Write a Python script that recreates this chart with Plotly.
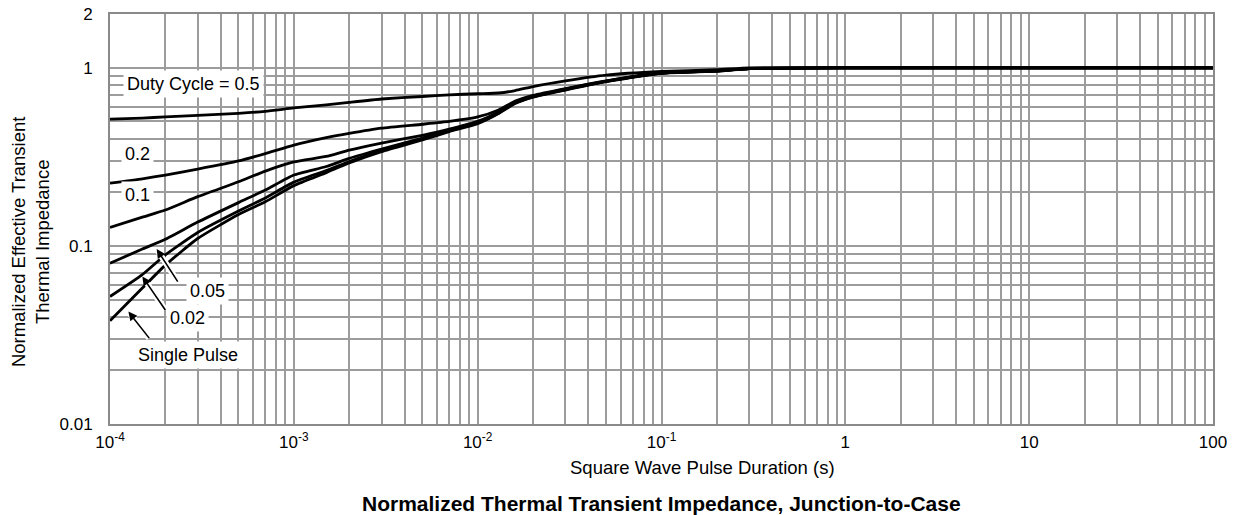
import plotly.graph_objects as go
import numpy as np

# ---- data ----
t_common = [1e-4, 1.5e-4, 2e-4, 3e-4, 5e-4, 7e-4, 1e-3, 1.5e-3, 2e-3, 3e-3, 5e-3, 7e-3,
            1e-2, 1.3e-2, 1.6e-2, 2e-2, 3e-2, 5e-2, 1e-1, 2e-1, 3e-1, 1, 10, 100]

z_d05 = [0.515, 0.522, 0.530, 0.540, 0.555, 0.570, 0.595, 0.620, 0.640, 0.668, 0.690, 0.705,
         0.715, 0.722, 0.745, 0.785, 0.845, 0.910, 0.953, 0.975, 1.0, 1.0, 1.0, 1.0]
z_d02 = [0.225, 0.238, 0.250, 0.270, 0.300, 0.330, 0.368, 0.405, 0.428, 0.458, 0.482, 0.500,
         0.530, 0.580, 0.650, 0.700, 0.765, 0.845, 0.936, 0.962, 0.990, 1.0, 1.0, 1.0]
z_d01 = [0.127, 0.145, 0.159, 0.189, 0.229, 0.263, 0.296, 0.318, 0.345, 0.378, 0.418, 0.452,
         0.500, 0.565, 0.640, 0.692, 0.760, 0.842, 0.935, 0.961, 0.990, 1.0, 1.0, 1.0]
z_d005 = [0.080, 0.096, 0.109, 0.136, 0.175, 0.206, 0.250, 0.279, 0.310, 0.350, 0.403, 0.448,
          0.497, 0.562, 0.638, 0.690, 0.757, 0.840, 0.934, 0.960, 0.990, 1.0, 1.0, 1.0]
z_d002 = [0.052, 0.069, 0.089, 0.119, 0.157, 0.186, 0.228, 0.265, 0.298, 0.343, 0.398, 0.443,
          0.490, 0.558, 0.635, 0.687, 0.754, 0.838, 0.933, 0.959, 0.990, 1.0, 1.0, 1.0]
z_single = [0.038, 0.058, 0.078, 0.110, 0.150, 0.177, 0.218, 0.258, 0.292, 0.338, 0.393, 0.438,
            0.485, 0.553, 0.630, 0.684, 0.750, 0.835, 0.932, 0.958, 0.990, 1.0, 1.0, 1.0]

series = [("0.5", z_d05), ("0.2", z_d02), ("0.1", z_d01), ("0.05", z_d005),
          ("0.02", z_d002), ("Single Pulse", z_single)]

x_decades = [1e-4, 1e-3, 1e-2, 1e-1, 1, 10, 100]
x_ticktext = ["10<sup>-4</sup>", "10<sup>-3</sup>", "10<sup>-2</sup>", "10<sup>-1</sup>", "1", "10", "100"]
y_decades = [0.01, 0.1, 1]
y_ticktext = ["0.01", "0.1", "1"]

# labels: (text, log10 x, log10 y)
labels = [("Duty Cycle = 0.5", -3.548, -0.090),
          ("0.2", -3.853, -0.483),
          ("0.1", -3.853, -0.713),
          ("0.05", -3.472, -1.253),
          ("0.02", -3.581, -1.404),
          ("Single Pulse", -3.576, -1.612)]
# arrows: (head log10 x, head log10 y, ax px, ay px)
arrows = [(-3.746, -1.018, 22, 34),
          (-3.824, -1.172, 24, 35),
          (-3.900, -1.369, 22, 28)]

FONT = "Liberation Sans, Arial, sans-serif"

fig = go.Figure()
for name, z in series:
    fig.add_trace(go.Scatter(x=t_common, y=z, mode="lines", name=name,
                             line=dict(color="black", width=2.8, shape="spline", smoothing=0.5),
                             showlegend=False, hoverinfo="skip"))

# grid positions: every 1..9 within each decade
x_grid = []
x_text = []
for d, lab in zip(x_decades, x_ticktext):
    for m in range(1, 10):
        v = d * m
        if v > 100.0001:
            break
        x_grid.append(v)
        x_text.append(lab if m == 1 else "")
y_grid = []
y_text = []
for d, lab in zip(y_decades, y_ticktext):
    for m in range(1, 10):
        v = d * m
        if v > 1.0001:
            break
        y_grid.append(v)
        y_text.append(lab if m == 1 else "")
y_grid.append(2)
y_text.append("2")

gridc = "#9c9c9c"
fig.update_xaxes(type="log", range=[-4, 2], tickvals=x_grid, ticktext=x_text,
                 showgrid=True, gridcolor=gridc, gridwidth=1.5,
                 showline=True, linecolor="#8a8a8a", linewidth=2, mirror=True,
                 ticks="", ticklabelstandoff=2, zeroline=False,
                 ticklabeloverflow="allow", automargin=False,
                 tickfont=dict(family=FONT, size=17, color="black"))
fig.update_yaxes(type="log", range=[-2, np.log10(2) + 0.001], tickvals=y_grid, ticktext=y_text,
                 showgrid=True, gridcolor=gridc, gridwidth=1.5,
                 showline=True, linecolor="#8a8a8a", linewidth=2, mirror=True,
                 ticks="", ticklabelstandoff=12, zeroline=False,
                 ticklabeloverflow="allow", automargin=False,
                 tickfont=dict(family=FONT, size=17, color="black"))

# arrows with white halo
for hx, hy, ax, ay in arrows:
    fig.add_annotation(x=hx, y=hy, ax=ax, ay=ay, axref="pixel", ayref="pixel",
                       text="", showarrow=True, arrowhead=0, arrowwidth=6, arrowcolor="white",
                       standoff=0)
    fig.add_annotation(x=hx, y=hy, ax=ax, ay=ay, axref="pixel", ayref="pixel",
                       text="", showarrow=True, arrowhead=2, arrowsize=1.1, arrowwidth=1.6,
                       arrowcolor="black", standoff=0)

for txt, lx, ly in labels:
    fig.add_annotation(x=lx, y=ly, text=txt, showarrow=False, bgcolor="white",
                       xanchor="center", yanchor="middle",
                       borderpad=3, font=dict(family=FONT, size=18, color="black"))

fig.add_annotation(xref="paper", yref="paper", x=0.537, y=-0.105, text="Square Wave Pulse Duration (s)",
                   xanchor="center", yanchor="middle",
                   showarrow=False, font=dict(family=FONT, size=18.5, color="black"))
fig.add_annotation(xref="paper", yref="paper", x=-0.0715, y=0.444,
                   text="Normalized Effective Transient<br>Thermal Impedance", textangle=-90,
                   xanchor="center", yanchor="middle",
                   showarrow=False, font=dict(family=FONT, size=18.5, color="black"))
fig.add_annotation(xref="paper", yref="paper", x=0.5, y=-0.193,
                   text="<b>Normalized Thermal Transient Impedance, Junction-to-Case</b>",
                   xanchor="center", yanchor="middle",
                   showarrow=False, font=dict(family=FONT, size=21, color="black"))

# page body has an 8px margin: shrink the figure and margins so the plot area
# lands where it is in the reference window
fig.update_layout(width=1227, height=507, margin=dict(l=102, r=22, t=6, b=91, autoexpand=False),
                  plot_bgcolor="white", paper_bgcolor="white")

fig.write_html("out.html")
